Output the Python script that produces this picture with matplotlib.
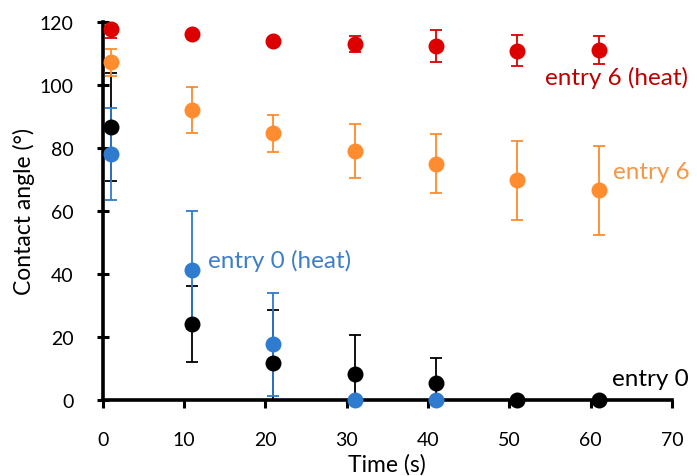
import matplotlib
matplotlib.use("Agg")
import matplotlib.pyplot as plt
import numpy as np

plt.rcParams['font.family'] = ['Lato', 'DejaVu Sans']

time = [1, 11, 21, 31, 41, 51, 61]

e6h_val = [117.7, 116, 114, 113, 112.3, 110.8, 111.0]
e6h_err = [2.8, 0.8, 0.8, 2.5, 5.0, 5.0, 4.5]

e6_val = [107.1, 91.9, 84.6, 78.9, 75.0, 69.7, 66.6]
e6_err = [4.3, 7.3, 5.9, 8.5, 9.3, 12.5, 14.1]

e0_val = [86.6, 24.1, 11.7, 8.4, 5.5, 0, 0]
e0_err = [17.0, 12.2, 17.0, 12.2, 7.8, 0, 0]

e0h_time = [1, 11, 21, 31, 41]
e0h_val = [78.0, 41.3, 17.7, 0, 0]
e0h_err = [14.5, 18.7, 16.4, 0, 0]

labels = ["entry 6 (heat)", "entry 6", "entry 0 (heat)", "entry 0"]
c_red, c_orange, c_blue, c_black = "#DD0000", "#FF8C2E", "#2E7BD0", "#000000"
t_red, t_orange, t_blue, t_black = "#C00000", "#F79646", "#3F7FC8", "#000000"

fig = plt.figure(figsize=(6.97, 4.77), dpi=100)
ax = fig.add_axes([0.1473, 0.1593, 0.964 - 0.1473, 0.9524 - 0.1593])

series = [
    (time, e0_val, e0_err, c_black),
    (e0h_time, e0h_val, e0h_err, c_blue),
    (time, e6_val, e6_err, c_orange),
    (time, e6h_val, e6h_err, c_red),
]
for x, y, e, c in series:
    x = np.array(x); y = np.array(y); e = np.array(e)
    m = e > 0
    ax.errorbar(x[m], y[m], yerr=e[m], fmt='none', ecolor=c, elinewidth=1.3,
                capsize=4.5, capthick=1.3, zorder=2)
    ax.plot(x, y, 'o', color=c, markersize=11.5, markeredgewidth=0,
            clip_on=False, zorder=3)

ax.set_xlim(0, 70)
ax.set_ylim(0, 120)
ax.set_xticks(range(0, 71, 10))
ax.set_yticks(range(0, 121, 20))
for s in ['top', 'right']:
    ax.spines[s].set_visible(False)
for s in ['left', 'bottom']:
    ax.spines[s].set_linewidth(2.6)
ax.tick_params(axis='y', direction='inout', length=8, width=2.2, labelsize=14, pad=17)
ax.tick_params(axis='x', direction='out', length=6, width=2.2, labelsize=14, pad=16)
ax.set_xlabel("Time (s)", fontsize=16.5, labelpad=4)
ax.set_ylabel("Contact angle (°)", fontsize=16.5, labelpad=3)

ax.text(63.2, 102.4, labels[0], color=t_red, fontsize=17.5, ha='center', va='center')
ax.text(67.5, 72.6, labels[1], color=t_orange, fontsize=17.5, ha='center', va='center')
ax.text(21.8, 44.4, labels[2], color=t_blue, fontsize=17.5, ha='center', va='center')
ax.text(67.3, 6.7, labels[3], color=t_black, fontsize=17.5, ha='center', va='center')

fig.savefig("out.png", dpi=100)
